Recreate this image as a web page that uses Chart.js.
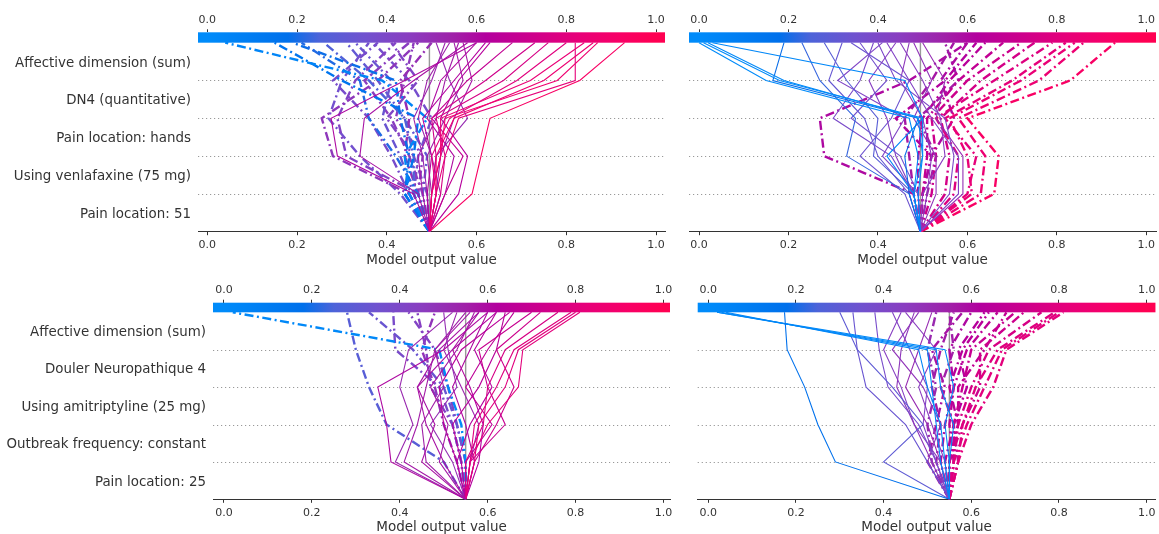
<!DOCTYPE html>
<html>
<head>
<meta charset="utf-8">
<script src="https://cdn.jsdelivr.net/npm/chart.js@4.4.0/dist/chart.umd.min.js"></script>
<style>
  html, body { margin: 0; padding: 0; background: #fff; }
  #wrap { position: relative; width: 1159px; height: 534px; }
  .cell { position: absolute; }
</style>
</head>
<body>
<div id="wrap">
  <div class="cell" style="left:0;top:0;width:672px;height:270px"><canvas id="tl"></canvas></div>
  <div class="cell" style="left:672px;top:0;width:487px;height:270px"><canvas id="tr"></canvas></div>
  <div class="cell" style="left:0;top:270px;width:680px;height:264px"><canvas id="bl"></canvas></div>
  <div class="cell" style="left:680px;top:270px;width:479px;height:264px"><canvas id="br"></canvas></div>
</div>
<script>
// tick values shared by the colour bar and the output axis
const xTicks = [0.0, 0.2, 0.4, 0.6, 0.8, 1.0];

// feature names, bottom row first
const topFeatures = ['Pain location: 51', 'Using venlafaxine (75 mg)', 'Pain location: hands', 'DN4 (quantitative)', 'Affective dimension (sum)'];
const bottomFeatures = ['Pain location: 25', 'Outbreak frequency: constant', 'Using amitriptyline (25 mg)', 'Douler Neuropathique 4', 'Affective dimension (sum)'];

const topLeftBase = 0.495;
const topRightBase = 0.495;
const bottomLeftBase = 0.55;
const bottomRightBase = 0.55;

// each path: model output at base, then after each of the 5 features (bottom -> top)
const topLeftSolid = [
  [0.495, 0.59, 0.61, 0.63, 0.83, 0.93],
  [0.495, 0.51, 0.53, 0.56, 0.82, 0.82],
  [0.495, 0.50, 0.52, 0.53, 0.78, 0.87],
  [0.495, 0.51, 0.51, 0.55, 0.75, 0.86],
  [0.495, 0.50, 0.52, 0.52, 0.72, 0.84],
  [0.495, 0.51, 0.50, 0.54, 0.69, 0.80],
  [0.495, 0.52, 0.53, 0.51, 0.66, 0.76],
  [0.495, 0.50, 0.51, 0.50, 0.62, 0.73],
  [0.495, 0.53, 0.57, 0.50, 0.58, 0.68],
  [0.495, 0.56, 0.58, 0.52, 0.56, 0.63],
  [0.495, 0.53, 0.55, 0.49, 0.52, 0.60],
  [0.495, 0.49, 0.50, 0.48, 0.55, 0.62],
  [0.495, 0.46, 0.29, 0.276, 0.44, 0.60],
  [0.495, 0.47, 0.34, 0.35, 0.46, 0.58],
  [0.495, 0.50, 0.49, 0.53, 0.57, 0.55],
  [0.495, 0.48, 0.47, 0.51, 0.53, 0.56],
  [0.495, 0.51, 0.52, 0.55, 0.59, 0.57],
  [0.495, 0.49, 0.48, 0.46, 0.50, 0.53],
  [0.495, 0.50, 0.51, 0.58, 0.54, 0.51],
  [0.495, 0.52, 0.50, 0.47, 0.49, 0.54]
];
const topLeftDashed = [
  [0.495, 0.45, 0.44, 0.49, 0.39, 0.04],
  [0.495, 0.44, 0.46, 0.47, 0.30, 0.15],
  [0.495, 0.47, 0.42, 0.36, 0.34, 0.21],
  [0.495, 0.44, 0.45, 0.43, 0.42, 0.19],
  [0.495, 0.46, 0.46, 0.44, 0.36, 0.26],
  [0.495, 0.45, 0.28, 0.255, 0.38, 0.47],
  [0.495, 0.47, 0.31, 0.29, 0.33, 0.42],
  [0.495, 0.43, 0.34, 0.27, 0.30, 0.36],
  [0.495, 0.45, 0.41, 0.36, 0.28, 0.38],
  [0.495, 0.46, 0.43, 0.39, 0.41, 0.33],
  [0.495, 0.48, 0.45, 0.41, 0.35, 0.45],
  [0.495, 0.47, 0.44, 0.45, 0.43, 0.50],
  [0.495, 0.49, 0.46, 0.40, 0.47, 0.41],
  [0.495, 0.46, 0.47, 0.50, 0.45, 0.37],
  [0.495, 0.48, 0.49, 0.44, 0.38, 0.31],
  [0.495, 0.47, 0.48, 0.42, 0.44, 0.46]
];

const topRightSolid = [
  [0.495, 0.48, 0.50, 0.50, 0.18, 0.01],
  [0.495, 0.49, 0.50, 0.49, 0.19, 0.02],
  [0.495, 0.47, 0.46, 0.49, 0.165, 0.19],
  [0.495, 0.48, 0.42, 0.50, 0.46, 0.03],
  [0.495, 0.48, 0.49, 0.47, 0.15, 0.00],
  [0.495, 0.47, 0.33, 0.35, 0.27, 0.23],
  [0.495, 0.47, 0.40, 0.37, 0.29, 0.32],
  [0.495, 0.48, 0.43, 0.30, 0.36, 0.39],
  [0.495, 0.48, 0.39, 0.40, 0.33, 0.28],
  [0.495, 0.49, 0.45, 0.34, 0.42, 0.36],
  [0.495, 0.48, 0.44, 0.42, 0.38, 0.44],
  [0.495, 0.46, 0.36, 0.43, 0.47, 0.34],
  [0.495, 0.49, 0.41, 0.46, 0.31, 0.41],
  [0.495, 0.50, 0.55, 0.54, 0.50, 0.45],
  [0.495, 0.53, 0.53, 0.48, 0.52, 0.48],
  [0.495, 0.58, 0.58, 0.52, 0.47, 0.42],
  [0.495, 0.56, 0.57, 0.55, 0.44, 0.40],
  [0.495, 0.59, 0.59, 0.53, 0.55, 0.50],
  [0.495, 0.51, 0.52, 0.50, 0.45, 0.47]
];
const topRightDashed = [
  [0.495, 0.66, 0.67, 0.60, 0.83, 0.93],
  [0.495, 0.63, 0.64, 0.58, 0.76, 0.86],
  [0.495, 0.61, 0.60, 0.56, 0.72, 0.84],
  [0.495, 0.60, 0.62, 0.55, 0.70, 0.82],
  [0.495, 0.57, 0.58, 0.53, 0.66, 0.79],
  [0.495, 0.55, 0.56, 0.54, 0.63, 0.75],
  [0.495, 0.52, 0.53, 0.52, 0.60, 0.72],
  [0.495, 0.50, 0.51, 0.51, 0.58, 0.68],
  [0.495, 0.49, 0.49, 0.50, 0.56, 0.64],
  [0.495, 0.50, 0.52, 0.57, 0.54, 0.60],
  [0.495, 0.48, 0.47, 0.46, 0.52, 0.57],
  [0.495, 0.48, 0.28, 0.27, 0.47, 0.60],
  [0.495, 0.50, 0.52, 0.44, 0.55, 0.62],
  [0.495, 0.51, 0.53, 0.49, 0.58, 0.55]
];

const bottomLeftSolid = [
  [0.55, 0.38, 0.37, 0.35, 0.50, 0.60],
  [0.55, 0.39, 0.43, 0.40, 0.42, 0.52],
  [0.55, 0.41, 0.44, 0.46, 0.48, 0.56],
  [0.55, 0.45, 0.48, 0.44, 0.52, 0.58],
  [0.55, 0.56, 0.60, 0.67, 0.68, 0.81],
  [0.55, 0.57, 0.58, 0.64, 0.67, 0.80],
  [0.55, 0.56, 0.57, 0.62, 0.66, 0.79],
  [0.55, 0.55, 0.59, 0.60, 0.64, 0.76],
  [0.55, 0.57, 0.62, 0.66, 0.62, 0.72],
  [0.55, 0.56, 0.64, 0.60, 0.58, 0.70],
  [0.55, 0.55, 0.61, 0.55, 0.60, 0.66],
  [0.55, 0.54, 0.52, 0.58, 0.62, 0.64],
  [0.55, 0.53, 0.56, 0.61, 0.57, 0.62],
  [0.55, 0.57, 0.55, 0.52, 0.56, 0.60],
  [0.55, 0.49, 0.51, 0.47, 0.53, 0.57],
  [0.55, 0.46, 0.45, 0.50, 0.48, 0.55],
  [0.55, 0.52, 0.47, 0.53, 0.51, 0.50],
  [0.55, 0.58, 0.59, 0.56, 0.52, 0.62],
  [0.55, 0.50, 0.46, 0.44, 0.49, 0.58],
  [0.55, 0.56, 0.58, 0.54, 0.50, 0.53],
  [0.55, 0.53, 0.50, 0.49, 0.54, 0.65]
];
const bottomLeftDashed = [
  [0.55, 0.55, 0.54, 0.51, 0.49, 0.02],
  [0.55, 0.50, 0.37, 0.33, 0.30, 0.28],
  [0.55, 0.54, 0.52, 0.49, 0.39, 0.385],
  [0.55, 0.55, 0.53, 0.50, 0.43, 0.33],
  [0.55, 0.54, 0.52, 0.47, 0.46, 0.44],
  [0.55, 0.55, 0.53, 0.51, 0.48, 0.42],
  [0.55, 0.53, 0.50, 0.48, 0.45, 0.48]
];

const bottomRightSolid = [
  [0.55, 0.29, 0.25, 0.22, 0.18, 0.174],
  [0.55, 0.55, 0.54, 0.56, 0.54, 0.02],
  [0.55, 0.53, 0.52, 0.51, 0.50, 0.03],
  [0.55, 0.55, 0.56, 0.53, 0.52, 0.02],
  [0.55, 0.54, 0.53, 0.50, 0.48, 0.04],
  [0.55, 0.40, 0.49, 0.42, 0.34, 0.30],
  [0.55, 0.50, 0.45, 0.36, 0.34, 0.33],
  [0.55, 0.52, 0.48, 0.41, 0.39, 0.38],
  [0.55, 0.51, 0.47, 0.43, 0.44, 0.47],
  [0.55, 0.53, 0.50, 0.45, 0.48, 0.51],
  [0.55, 0.52, 0.49, 0.50, 0.46, 0.42],
  [0.55, 0.54, 0.51, 0.48, 0.52, 0.45],
  [0.55, 0.50, 0.53, 0.49, 0.42, 0.48],
  [0.55, 0.53, 0.47, 0.44, 0.40, 0.44]
];
const bottomRightDashed = [
  [0.55, 0.57, 0.60, 0.65, 0.68, 0.81],
  [0.55, 0.56, 0.59, 0.63, 0.67, 0.80],
  [0.55, 0.57, 0.58, 0.61, 0.66, 0.79],
  [0.55, 0.56, 0.57, 0.60, 0.64, 0.76],
  [0.55, 0.55, 0.58, 0.62, 0.62, 0.72],
  [0.55, 0.56, 0.56, 0.58, 0.60, 0.70],
  [0.55, 0.55, 0.57, 0.57, 0.63, 0.68],
  [0.55, 0.56, 0.55, 0.56, 0.59, 0.66],
  [0.55, 0.54, 0.56, 0.59, 0.57, 0.63],
  [0.55, 0.53, 0.54, 0.56, 0.55, 0.60],
  [0.55, 0.55, 0.57, 0.55, 0.58, 0.64],
  [0.55, 0.52, 0.53, 0.51, 0.53, 0.56],
  [0.55, 0.50, 0.52, 0.54, 0.51, 0.58],
  [0.55, 0.57, 0.56, 0.53, 0.56, 0.55],
  [0.55, 0.51, 0.50, 0.52, 0.50, 0.52]
];

// blue -> purple -> red colour map, like the one in the colour bar
const cmapStops = [
  [0.00, [0, 139, 250]],
  [0.18, [0, 112, 235]],
  [0.25, [77, 99, 217]],
  [0.35, [112, 82, 207]],
  [0.45, [138, 61, 192]],
  [0.55, [160, 32, 168]],
  [0.62, [179, 0, 158]],
  [0.72, [204, 0, 140]],
  [0.82, [230, 0, 122]],
  [0.92, [248, 0, 102]],
  [1.00, [255, 0, 82]]
];

function lineColor(v) {
  v = Math.max(0, Math.min(1, v));
  for (let i = 1; i < cmapStops.length; i++) {
    const [p1, c1] = cmapStops[i];
    const [p0, c0] = cmapStops[i - 1];
    if (v <= p1) {
      const t = (v - p0) / (p1 - p0);
      const c = c0.map((a, k) => Math.round(a + (c1[k] - a) * t));
      return `rgb(${c[0]},${c[1]},${c[2]})`;
    }
  }
  return 'rgb(255,0,82)';
}

const FONT = "'DejaVu Sans', sans-serif";
const textColor = '#333333';

const decisionPlugin = {
  id: 'decision',
  beforeDatasetsDraw(chart) {
    const { ctx, chartArea, scales } = chart;
    const rows = chart.options.plugins.decision.rows;
    ctx.save();
    ctx.strokeStyle = '#999999';
    ctx.lineWidth = 1;
    ctx.setLineDash([1.2, 2.8]);
    for (let i = 1; i < rows; i++) {
      const y = Math.round(scales.y.getPixelForValue(i)) + 0.5;
      ctx.beginPath();
      ctx.moveTo(chartArea.left, y);
      ctx.lineTo(chartArea.right, y);
      ctx.stroke();
    }
    ctx.restore();
  },
  afterDatasetsDraw(chart) {
    const { ctx, chartArea, scales } = chart;
    const rows = chart.options.plugins.decision.rows;
    const x0 = scales.x.getPixelForValue(0);
    const x1 = scales.x.getPixelForValue(1);
    const grad = ctx.createLinearGradient(x0, 0, x1, 0);
    cmapStops.forEach(([p, c]) => grad.addColorStop(p, `rgb(${c[0]},${c[1]},${c[2]})`));
    const yb = scales.y.getPixelForValue(rows);
    ctx.save();
    ctx.fillStyle = grad;
    ctx.fillRect(chartArea.left, chartArea.top, chartArea.right - chartArea.left, yb - chartArea.top);
    ctx.restore();
  }
};

function drawPanel(canvasId, p) {
  const datasets = [];
  const addPath = (vals, dashed) => datasets.push({
    data: vals.map((v, i) => ({ x: v, y: i })),
    showLine: true,
    fill: false,
    pointRadius: 0,
    borderColor: lineColor(vals[vals.length - 1]),
    borderWidth: dashed ? 2.4 : 1.1,
    borderDash: dashed ? [9, 3.5, 2, 3.5] : [],
    order: 1
  });
  p.solid.forEach(v => addPath(v, false));
  p.dashed.forEach(v => addPath(v, true));
  datasets.push({
    data: [{ x: p.base, y: 0 }, { x: p.base, y: p.features.length }],
    showLine: true,
    pointRadius: 0,
    borderColor: '#999999',
    borderWidth: 1.4,
    order: 5
  });

  const setTicks = axis => { axis.ticks = xTicks.map(v => ({ value: v })); };

  new Chart(document.getElementById(canvasId), {
    type: 'scatter',
    data: { datasets },
    plugins: [decisionPlugin],
    options: {
      responsive: true,
      maintainAspectRatio: false,
      animation: false,
      layout: { padding: { left: 0, right: p.padRight, top: 0, bottom: 0 } },
      plugins: {
        legend: { display: false },
        tooltip: { enabled: false },
        decision: { rows: p.features.length }
      },
      scales: {
        x: {
          type: 'linear',
          position: 'bottom',
          min: p.xMin,
          max: p.xMax,
          afterBuildTicks: setTicks,
          afterFit: a => { a.height = p.bottomH; },
          ticks: {
            callback: v => v.toFixed(1),
            color: textColor,
            font: { family: FONT, size: 11 },
            padding: 3.5,
            maxRotation: 0,
            autoSkip: false
          },
          grid: { drawOnChartArea: false, drawTicks: true, tickLength: 3.5, color: textColor },
          border: { display: true, color: textColor, width: 1 },
          title: {
            display: true,
            text: 'Model output value',
            color: textColor,
            font: { family: FONT, size: 13.5, lineHeight: 1 },
            padding: { top: 0, bottom: p.titlePad }
          }
        },
        x2: {
          type: 'linear',
          position: 'top',
          min: p.xMin,
          max: p.xMax,
          afterBuildTicks: setTicks,
          afterFit: a => { a.height = p.topH; },
          ticks: {
            callback: v => v.toFixed(1),
            color: textColor,
            font: { family: FONT, size: 11 },
            padding: 3,
            maxRotation: 0,
            autoSkip: false
          },
          grid: { drawOnChartArea: false, drawTicks: true, tickLength: 3, color: textColor },
          border: { display: false }
        },
        y: {
          type: 'linear',
          min: 0,
          max: p.yMax,
          afterBuildTicks: a => { a.ticks = p.features.map((f, i) => ({ value: i + 0.46 })); },
          afterFit: a => { a.width = p.leftW; },
          ticks: {
            display: p.showLabels,
            callback: (v, i) => p.features[i],
            color: textColor,
            font: { family: FONT, size: 13.4 },
            padding: 7
          },
          grid: { display: false, drawTicks: false, tickLength: 0 },
          border: { display: false }
        }
      }
    }
  });
}

drawPanel('tl', {
  features: topFeatures, base: topLeftBase, solid: topLeftSolid, dashed: topLeftDashed,
  xMin: -0.0207, xMax: 1.020, yMax: 5.275, leftW: 198, padRight: 7,
  topH: 32.3, bottomH: 38.3, titlePad: 3, showLabels: true
});
drawPanel('tr', {
  features: topFeatures, base: topRightBase, solid: topRightSolid, dashed: topRightDashed,
  xMin: -0.0224, xMax: 1.0217, yMax: 5.275, leftW: 17, padRight: 3,
  topH: 32.3, bottomH: 38.3, titlePad: 3, showLabels: false
});
drawPanel('bl', {
  features: bottomFeatures, base: bottomLeftBase, solid: bottomLeftSolid, dashed: bottomLeftDashed,
  xMin: -0.025, xMax: 1.015, yMax: 5.257, leftW: 213, padRight: 10,
  topH: 32.7, bottomH: 34.7, titlePad: 0, showLabels: true
});
drawPanel('br', {
  features: bottomFeatures, base: bottomRightBase, solid: bottomRightSolid, dashed: bottomRightDashed,
  xMin: -0.024, xMax: 1.02, yMax: 5.257, leftW: 17.7, padRight: 0,
  topH: 32.7, bottomH: 34.7, titlePad: 0, showLabels: false
});
</script>
</body>
</html>
